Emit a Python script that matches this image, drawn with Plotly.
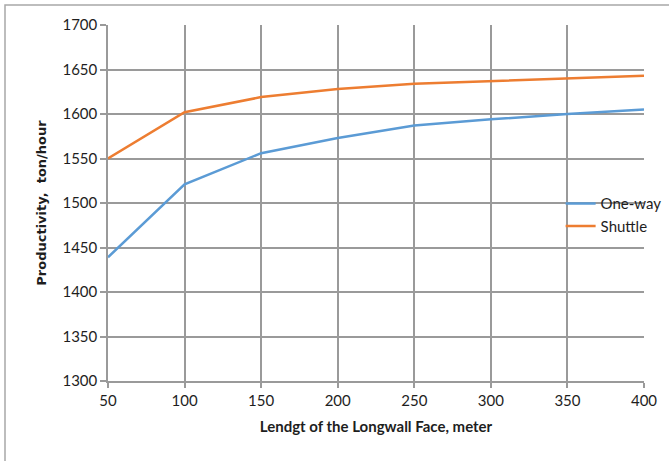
import plotly.graph_objects as go

# Face length (m) and productivity (ton/hour) for the two cutting modes
face_length = [50, 100, 150, 200, 250, 300, 350, 400]
one_way = [1439, 1521, 1556, 1573, 1587, 1594, 1600, 1605]
shuttle = [1550, 1602, 1619, 1628, 1634, 1637, 1640, 1643]

y_ticks = [1300, 1350, 1400, 1450, 1500, 1550, 1600, 1650, 1700]
x_ticks = [50, 100, 150, 200, 250, 300, 350, 400]

FONT = "Lato"
GRID = "#9a9a9a"

fig = go.Figure()
fig.add_trace(go.Scatter(x=face_length, y=one_way, name="One-way", mode="lines",
                         line=dict(color="#5B9BD5", width=2.5)))
fig.add_trace(go.Scatter(x=face_length, y=shuttle, name="Shuttle", mode="lines",
                         line=dict(color="#ED7D31", width=2.5)))

fig.update_layout(
    width=669, height=461,
    margin=dict(l=108, r=25, t=25, b=80, autoexpand=False),
    paper_bgcolor="white", plot_bgcolor="white",
    font=dict(family=FONT, color="#1e1e1e"),
    showlegend=True,
    legend=dict(xref="container", yref="container",
                x=0.838, y=0.534, xanchor="left", yanchor="middle",
                bgcolor="rgba(0,0,0,0)", borderwidth=0,
                font=dict(family=FONT, size=15, color="#1e1e1e"),
                tracegroupgap=0),
    xaxis=dict(
        range=[50, 400], tickvals=x_ticks, ticktext=[str(v) for v in x_ticks],
        showgrid=True, gridcolor=GRID, gridwidth=1.5,
        showline=True, linecolor=GRID, linewidth=1.5,
        ticks="outside", ticklen=5, tickcolor=GRID, tickwidth=1.5,
        tickfont=dict(family=FONT, size=15), zeroline=False,
        title=dict(text="<b>Lendgt of the Longwall Face, meter</b>",
                   font=dict(family=FONT, size=15), standoff=14),
    ),
    yaxis=dict(
        range=[1300, 1700], tickvals=y_ticks, ticktext=[str(v) for v in y_ticks],
        showgrid=True, gridcolor=GRID, gridwidth=1.5,
        showline=True, linecolor=GRID, linewidth=1.5,
        ticks="outside", ticklen=6, tickcolor=GRID, tickwidth=1.5,
        tickfont=dict(family=FONT, size=15), zeroline=False,
        title=dict(text="<b>Productivity,  ton/hour</b>",
                   font=dict(family="DejaVu Sans", size=13), standoff=13),
    ),
    shapes=[dict(type="rect", xref="paper", yref="paper",
                 x0=(5 - 108) / 536, x1=1.5, y0=-1.0, y1=(381 - 5) / 356,
                 line=dict(color="#a8a8a8", width=1.5), fillcolor="rgba(0,0,0,0)",
                 layer="below")],
)

fig.write_html("out.html")
